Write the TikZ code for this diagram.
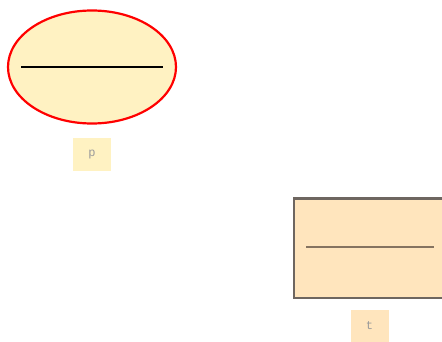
\documentclass[tikz,border=0pt]{standalone}
\usepackage{fontspec}
\setmonofont{Liberation Mono}
\usetikzlibrary{shapes.geometric}
\definecolor{ellfill}{HTML}{FFF2C2}
\definecolor{rectfill}{HTML}{FFE5BD}
\definecolor{rectline}{HTML}{6E6660}
\definecolor{barline}{HTML}{857360}
\definecolor{labtext}{HTML}{9A9A9A}
\tikzset{
  lab/.style={inner sep=0pt, minimum width=38pt, minimum height=33pt, font=\ttfamily\fontsize{12}{14}\selectfont, text=labtext},
}
\begin{document}
\begin{tikzpicture}[x=1pt,y=-1pt]
\useasboundingbox (0,0) rectangle (442,342);
\clip (0,0) rectangle (442,342);
\node[ellipse, draw=red, line width=2.2pt, fill=ellfill, minimum width=168pt, minimum height=113pt, inner sep=0pt] (pe) at (92,67) {};
\coordinate (pl) at (21,67);
\coordinate (pr) at (163,67);
\draw[line width=2.6pt, black] (pl) -- (pr);
\node[lab, fill=ellfill] (p) at (92,154.5) {p};
\node[draw=rectline, line width=2.2pt, fill=rectfill, minimum width=160pt, minimum height=99pt, inner sep=0pt, anchor=north west] (tr) at (292.5,197.5) {};
\coordinate (tl) at (306,247);
\coordinate (trr) at (434,247);
\draw[line width=2.6pt, barline] (tl) -- (trr);
\node[lab, fill=rectfill] (t) at (369.5,326) {t};
\end{tikzpicture}
\end{document}
